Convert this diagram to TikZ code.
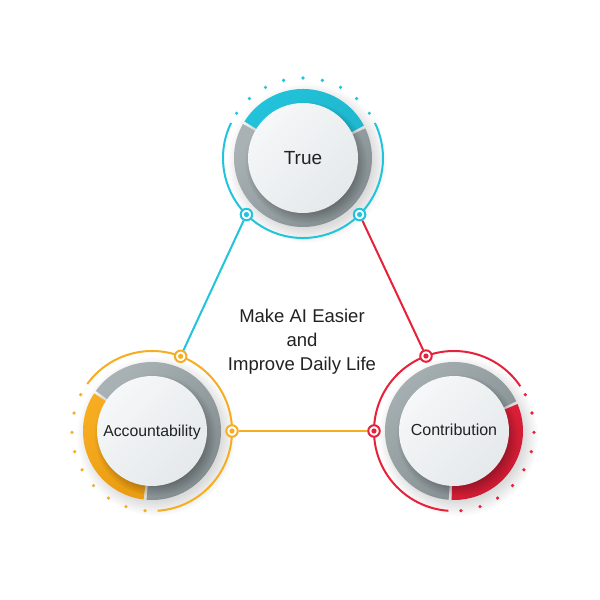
\documentclass[tikz,border=0pt]{standalone}
\usepackage{fontspec}
\setmainfont{Liberation Sans}
\usetikzlibrary{calc,fadings}
\definecolor{cy}{HTML}{22C4DC}
\definecolor{cyD}{HTML}{1FB8CF}
\definecolor{rd}{HTML}{E8213B}
\definecolor{rdD}{HTML}{C41A31}
\definecolor{og}{HTML}{F7AD22}
\definecolor{ogD}{HTML}{EA9C12}
\definecolor{grayL}{HTML}{A8B2B5}
\definecolor{grayD}{HTML}{828C8F}
\definecolor{discL}{HTML}{F5F7F8}
\definecolor{discD}{HTML}{E5E9EB}
\definecolor{txt}{HTML}{222222}
\newcommand\ringseg[5]{% center, a1, a2, light colour, dark colour
  \shade[top color=#4, bottom color=#5, shading angle=45]
  ($(#1)+(#2:69)$) arc[start angle=#2,end angle=#3,radius=69]
  -- ($(#1)+(#3:48)$) arc[start angle=#3,end angle=#2,radius=48] -- cycle;}
\newcommand\ringunit[9]{% center, col, colL, colD, ca1, ca2, thin a1, thin a2, dot start
  \fill[black, opacity=0.14, path fading=circle with fuzzy edge 20 percent] ($(#1)+(4,-5)$) circle (80);
  \ringseg{#1}{#5}{#6}{#3}{#4}
  \ringseg{#1}{#6+2.5}{#5+357.5}{grayL}{grayD}
  \fill[black, opacity=0.28, path fading=circle with fuzzy edge 20 percent] ($(#1)+(3,-4)$) circle (61);
  \shade[top color=discL, bottom color=discD, shading angle=45] (#1) circle (55);
  \draw[#2, line width=2] ($(#1)+(#7:80)$) arc[start angle=#7,end angle=#8,radius=80];
  \foreach \k in {0,...,8} \fill[#2] ($(#1)+({#9+14*\k}:80)$) circle (1.8);
}
\tikzset{
  conn/.style={circle, draw=#1, fill=white, line width=2, minimum size=11.5, inner sep=0,
    path picture={\fill[#1] (path picture bounding box.center) circle (2.6);}},
  link/.style={#1, line width=2},
  label/.style={text=txt, font=\fontsize{#1}{#1}\selectfont, inner sep=0}
}
\begin{document}
\begin{tikzpicture}[x=1pt,y=1pt]
\useasboundingbox (0,0) rectangle (600,600);
\fill[white] (0,0) rectangle (600,600);
\coordinate (T) at (303,442);
\coordinate (L) at (152,169);
\coordinate (R) at (454,169);
\ringunit{T}{cy}{cy}{cyD}{28}{148}{-206}{26}{34}
\ringunit{L}{og}{og}{ogD}{147}{263}{-86}{144}{153}
\ringunit{R}{rd}{rd}{rdD}{268}{383}{34}{266}{275}
\node[conn=cy] (t1) at ($(T)+(225:80)$) {};
\node[conn=cy] (t2) at ($(T)+(315:80)$) {};
\node[conn=og] (l1) at ($(L)+(69:80)$) {};
\node[conn=og] (l2) at ($(L)+(0:80)$) {};
\node[conn=rd] (r1) at ($(R)+(110.5:80)$) {};
\node[conn=rd] (r2) at ($(R)+(180:80)$) {};
\draw[link=cy] (t1) -- (l1);
\draw[link=rd] (t2) -- (r1);
\draw[link=og] (l2) -- (r2);
\node[label=19] (tT) at (T) {True};
\node[label=15.8] (tL) at ($(L)+(0,-1)$) {Accountability};
\node[label=16] (tR) at ($(R)+(0,1)$) {Contribution};
\node[text=txt, align=center, font=\fontsize{18.5}{24}\selectfont] (mid) at (302,258)
  {Make AI Easier\\and\\Improve Daily Life};
\end{tikzpicture}
\end{document}
